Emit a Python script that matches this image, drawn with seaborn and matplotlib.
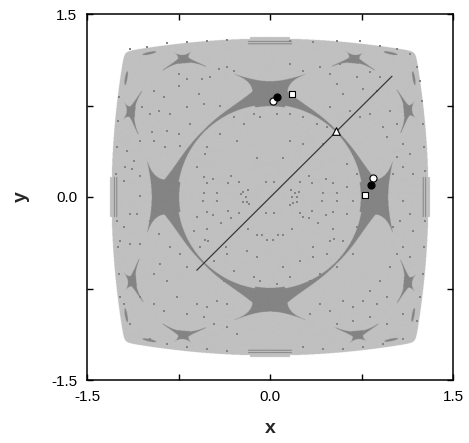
import numpy as np
import pandas as pd
import matplotlib
matplotlib.use("Agg")
import matplotlib.pyplot as plt
import seaborn as sns

# ---------------- axis / text ----------------
tick_pos = [-1.5, -0.75, 0.0, 0.75, 1.5]
tick_lab = ["-1.5", "", "0.0", "", "1.5"]
x_label = "x"
y_label = "y"

# ---------------- basin geometry ----------------
outer_half = 1.30          # half width of light region on the axes
outer_bow = 0.075          # inward bow of the sides
circle_r = 0.765           # radius of the separatrix circle
star_axes_deg = [0, 90, 180, 270]
star_depth = [0.205, 0.185, 0.205, 0.175]   # radial depth of each big star

sat_cx = [-0.71, 0.69, -1.145, 1.135, -1.135, 1.135, -0.71, 0.72]
sat_cy = [1.135, 1.135, 0.70, 0.71, -0.69, -0.70, -1.135, -1.135]
sat_psi = [95, 85, 175, 5, 185, -5, 265, 275]

dash_cx = [-0.99, 0.99, -0.99, 0.995, -1.18, 1.18, -1.18, 1.175]
dash_cy = [1.18, 1.18, -1.175, -1.172, 0.975, 0.975, -0.97, -0.967]
dash_ang = [12, -12, -12, 12, 80, 100, 100, 80]

# ---------------- special points ----------------
diag_x = [-0.60, 1.00]
diag_y = [-0.60, 0.99]
tri_x, tri_y = [0.538], [0.543]
bcirc_x, bcirc_y = [0.060, 0.828], [0.817, 0.096]
wcirc_x, wcirc_y = [0.025, 0.843], [0.786, 0.157]
wsq_x, wsq_y = [0.179, 0.780], [0.845, 0.017]

# ---------------- scattered orbit dots ----------------
dots_x = [
    -0.533, -0.109, 0.104, -0.541, -0.514, -0.464, -0.322, -0.342, -0.251, -0.033, 0.033, 0.246,
    0.317, 0.342, 0.459, 0.519, -0.541, -0.432, -0.546, -0.432, -0.240, -0.219, -0.178, -0.197,
    -0.219, -0.191, -0.169, 0.169, 0.205, 0.235, 0.178, 0.224, 0.186, 0.219, 0.164, 0.432,
    0.546, 0.423, 0.546, -0.514, -0.464, -0.342, -0.322, -0.251, -0.033, 0.033, 0.246, 0.273,
    0.317, 0.342, 0.459, 0.519, -0.404, 0.396, -0.514, -0.178, 0.178, 0.514, -0.104, -0.068,
    -0.022, 0.022, 0.068, 0.104, -0.533, -0.505, -0.361, 0.350, 0.492, 0.525,
    -0.749, -0.680, -0.557, -0.489, -0.585, -0.749, -0.872, -0.954, -1.049, -0.981, -0.913, -0.817,
    -0.680, -0.544, -0.407, -0.421, -0.352, -0.298, -1.063, -0.967, -0.954, -0.844, -0.858, -0.735,
    -0.749, -0.653, -1.172, -1.117, -1.186, -1.131, -1.063, -1.199, -1.063, -1.090, -1.145, -1.199,
    -1.227, -1.145, -1.063, -0.981, -0.913, -0.817, -0.735, -0.899, -0.954, -0.844, -0.680, -1.063,
    -0.954, -0.872, -0.762, -0.680, -0.598, -0.516, -0.434, -0.352, -0.544, -0.462, -0.352, -0.270,
    -1.199, -1.145, -0.981, -0.844, -0.680, -0.516, -0.352,
    -1.145, -1.008, -0.844, -0.680, -0.516, -0.352,
    -1.240, -1.249, -1.254, -1.260, -1.254, -1.249, -1.240, -1.227,
    -0.598, -0.270, -0.216, -0.134, -0.079, -0.298, -0.598, -0.352, -0.189, -0.107, -0.462, -0.298,
    -0.134, -0.380, -0.216, -0.079, -0.407, -0.516, -0.626, -0.571,
    0.164, 0.355, 0.546, 0.738, 0.902, 1.038, 1.148,
    0.164, 0.273, 0.410, 0.492, 0.574, 0.710, 0.820, 0.902, 0.546, 0.601, 0.765, 0.874,
    0.492, 0.656, 0.738, 0.820, 0.929, 0.984, 1.038, 0.956,
    1.202, 1.230, 1.243, 1.257, 1.262, 1.270, 1.270, 1.262, 1.251, 1.230, 1.202,
    1.093, 1.148, 1.038, 1.093, 1.175, 1.011, 1.093, 1.148, 1.066, 1.011, 1.175, 1.093,
    1.148, 1.038, 0.984, 0.902, 0.820, 0.956, 0.874, 0.765, 0.683, 0.601, 0.492, 0.410,
    0.328, 0.546, 0.683, 0.820, 0.956, 1.093,
    0.273, 0.437, 0.601, 0.765, 0.929, 1.093,
    0.055, 0.164, 0.273, 0.383, 0.464, 0.164, 0.273, 0.437, 0.628, 0.683, 0.710, 0.628,
    0.683, 0.628, 0.710, 0.601, 0.683, 0.546, 0.410, 0.328, 0.164, 0.055, 0.109, 0.246,
    0.355, 0.464,
]
dots_y = [
    0.352, 0.317, 0.317, 0.161, 0.117, 0.150, 0.172, 0.112, 0.126, 0.126, 0.126, 0.126,
    0.172, 0.112, 0.150, 0.117, 0.030, 0.030, -0.030, -0.030, 0.022, 0.044, 0.057, -0.003,
    -0.038, -0.038, -0.057, 0.057, 0.036, 0.041, 0.003, 0.003, -0.046, -0.038, -0.066, 0.030,
    0.030, -0.030, -0.030, -0.120, -0.150, -0.112, -0.175, -0.128, -0.128, -0.128, -0.128, -0.161,
    -0.175, -0.112, -0.150, -0.120, -0.210, -0.210, -0.265, -0.262, -0.262, -0.265, -0.311, -0.311,
    -0.352, -0.352, -0.311, -0.311, -0.352, -0.358, -0.407, -0.407, -0.358, -0.347,
    1.008, 0.967, 0.967, 0.981, 0.844, 0.913, 0.817, 0.872, 0.735, 0.680, 0.708, 0.680,
    0.735, 0.762, 0.749, 1.049, 1.063, 1.036, 0.462, 0.530, 0.462, 0.544, 0.407, 0.421,
    0.516, 0.598, 0.380, 0.298, 0.243, 0.230, 0.175, 0.134, 0.011, -0.139, -0.139, -0.249,
    -0.358, -0.385, -0.385, -0.194, -0.303, -0.413, -0.467, -0.549, -0.631, -0.686, -0.577, -0.822,
    -0.877, -0.932, -0.822, -0.959, -0.877, -0.904, -0.850, -0.877, -0.986, -1.041, -1.068, -1.123,
    -0.877, -1.041, -1.164, -1.205, -1.232, -1.246, -1.260,
    1.213, 1.227, 1.260, 1.268, 1.276, 1.287,
    0.817, 0.626, 0.407, 0.189, -0.194, -0.413, -0.631, -0.822,
    0.243, 0.462, 0.598, 0.680, 0.653, 0.653, -0.167, -0.467, -0.440, -0.494, -0.522, -0.604,
    -0.658, -0.686, -0.740, -0.686, 0.516, 0.407, -0.276, -0.413,
    1.281, 1.268, 1.281, 1.276, 1.240, 1.213, 1.172,
    1.090, 1.036, 1.063, 1.008, 1.090, 0.981, 1.022, 0.981, 0.926, 0.844, 0.885, 0.872,
    0.735, 0.708, 0.653, 0.680, 0.571, 0.708, 0.598, 0.489,
    1.063, 0.954, 0.790, 0.598, 0.407, 0.216, -0.194, -0.413, -0.631, -0.822, -1.014,
    0.434, 0.352, 0.325, 0.243, 0.189, 0.189, -0.030, -0.139, -0.194, -0.249, -0.276, -0.413,
    -0.494, -0.467, -0.577, -0.686, -0.768, -0.822, -0.877, -0.850, -0.904, -0.850, -0.932, -0.877,
    -0.959, -1.041, -1.014, -0.986, -1.041, -0.959,
    -1.232, -1.246, -1.246, -1.232, -1.205, -1.164,
    0.680, 0.680, 0.653, 0.598, 0.571, 0.462, 0.434, 0.434, 0.270, 0.352, 0.189, 0.079,
    -0.030, -0.139, -0.249, -0.358, -0.467, -0.577, -0.631, -0.686, -0.658, -0.713, -0.577, -0.522,
    -0.494, -0.467,
]

# ---------------- colours ----------------
col_bg = np.array([1.0, 1.0, 1.0])
col_light = np.array([192, 192, 192]) / 255
col_dark = np.array([132, 132, 132]) / 255


def star_mask(s, t, smax, depth=0.18):
    a = np.abs(s)
    ttop = depth + (0.28 - depth) * (a / 0.21) ** 2
    side = np.where(t < 0.12, 0.125, 0.125 + 0.09 * (np.clip(t - 0.12, 0, None) / 0.16) ** 2)
    body = (t >= -0.02) & (t <= ttop) & (a <= side) & (a <= 0.215) & (t <= 0.285)
    tail_top = 0.11 * np.exp(-(a - 0.13) / 0.17)
    tail = (t >= -0.006) & (t <= tail_top) & (a >= 0.1) & (a <= smax)
    return body | tail


N = 1100
g = np.linspace(-1.5, 1.5, N)
X, Y = np.meshgrid(g, g)
R = np.hypot(X, Y)
TH = np.arctan2(Y, X)

# light region
f1 = np.abs(X) - (outer_half - outer_bow * Y ** 2)
f2 = np.abs(Y) - (outer_half - outer_bow * X ** 2)
k = 0.02
light = k * np.logaddexp(f1 / k, f2 / k) <= 0
light |= (np.abs(X) <= 0.165) & (np.abs(Y) <= 1.312)
light |= (np.abs(Y) <= 0.165) & (np.abs(X) <= 1.312)

# dark region
dark = np.abs(R - circle_r) <= 0.0045
for deg, dep in zip(star_axes_deg, star_depth):
    d = (TH - np.deg2rad(deg) + np.pi) % (2 * np.pi) - np.pi
    near = np.abs(d) < 1.2
    dark |= near & star_mask(circle_r * d, R - circle_r, 0.9, dep)

sat_scale = 0.34
sat_bend = 1.6
for cx, cy, psi in zip(sat_cx, sat_cy, sat_psi):
    p = np.deg2rad(psi)
    vx, vy = np.cos(p), np.sin(p)
    ux, uy = np.cos(p - np.pi / 2), np.sin(p - np.pi / 2)
    u = (X - cx) * ux + (Y - cy) * uy
    v = (X - cx) * vx + (Y - cy) * vy
    dark |= star_mask(u / sat_scale, (v + sat_bend * u ** 2) / sat_scale + 0.09, 0.52)

for cx, cy, ang in zip(dash_cx, dash_cy, dash_ang):
    p = np.deg2rad(ang)
    u = (X - cx) * np.cos(p) + (Y - cy) * np.sin(p)
    v = -(X - cx) * np.sin(p) + (Y - cy) * np.cos(p)
    dark |= (u / 0.058) ** 2 + (v / 0.010) ** 2 <= 1

# double lines along edges
for c0 in (1.257, 1.276):
    dark |= (np.abs(np.abs(X) - c0) <= 0.004) & (np.abs(Y) <= 0.165)
    dark |= (np.abs(np.abs(Y) - c0) <= 0.004) & (np.abs(X) <= 0.18)

dark &= light

img = np.empty((N, N, 3))
img[:] = col_bg
img[light] = col_light
img[dark] = col_dark

# ---------------- figure ----------------
sns.set_theme(style="ticks")
plt.rcParams["font.family"] = ["Liberation Sans", "DejaVu Sans"]

fig = plt.figure(figsize=(4.69, 4.43), dpi=100)
ax = fig.add_axes([87 / 469, 1 - 380 / 443, 366 / 469, 366 / 443])

ax.imshow(img, extent=[-1.5, 1.5, -1.5, 1.5], origin="lower",
          interpolation="antialiased", zorder=0, aspect="auto")

dots = pd.DataFrame({"x": dots_x, "y": dots_y})
sns.scatterplot(data=dots, x="x", y="y", ax=ax, marker="s", s=3.2,
                color="#848484", linewidth=0, zorder=2)

diag = pd.DataFrame({"x": diag_x, "y": diag_y})
sns.lineplot(data=diag, x="x", y="y", ax=ax, color="#3a3a3a", lw=0.9,
             sort=False, estimator=None, zorder=3)

sns.scatterplot(x=wcirc_x, y=wcirc_y, ax=ax, marker="o", s=26, color="white",
                edgecolor="black", linewidth=0.8, zorder=4)
sns.scatterplot(x=bcirc_x, y=bcirc_y, ax=ax, marker="o", s=26, color="black",
                edgecolor="black", linewidth=0.8, zorder=5)
sns.scatterplot(x=wsq_x, y=wsq_y, ax=ax, marker="s", s=20, color="white",
                edgecolor="black", linewidth=0.8, zorder=4)
sns.scatterplot(x=tri_x, y=tri_y, ax=ax, marker="^", s=30, color="white",
                edgecolor="black", linewidth=0.8, zorder=4)

ax.set_xlim(-1.5, 1.5)
ax.set_ylim(-1.5, 1.5)
ax.set_xticks(tick_pos)
ax.set_xticklabels(tick_lab)
ax.set_yticks(tick_pos)
ax.set_yticklabels(tick_lab)
ax.tick_params(direction="in", top=True, right=True, length=4, width=1.0,
               labelsize=11, pad=7, colors="black")
for sp in ax.spines.values():
    sp.set_linewidth(1.1)
    sp.set_color("black")
    sp.set_visible(True)

ax.set_xlabel(x_label, fontsize=14, fontweight="bold")
ax.set_ylabel(y_label, fontsize=14, fontweight="bold")
ax.xaxis.set_label_coords(0.5, -0.11)
ax.yaxis.set_label_coords(-0.155, 0.5)

fig.savefig("out.png", dpi=100)
